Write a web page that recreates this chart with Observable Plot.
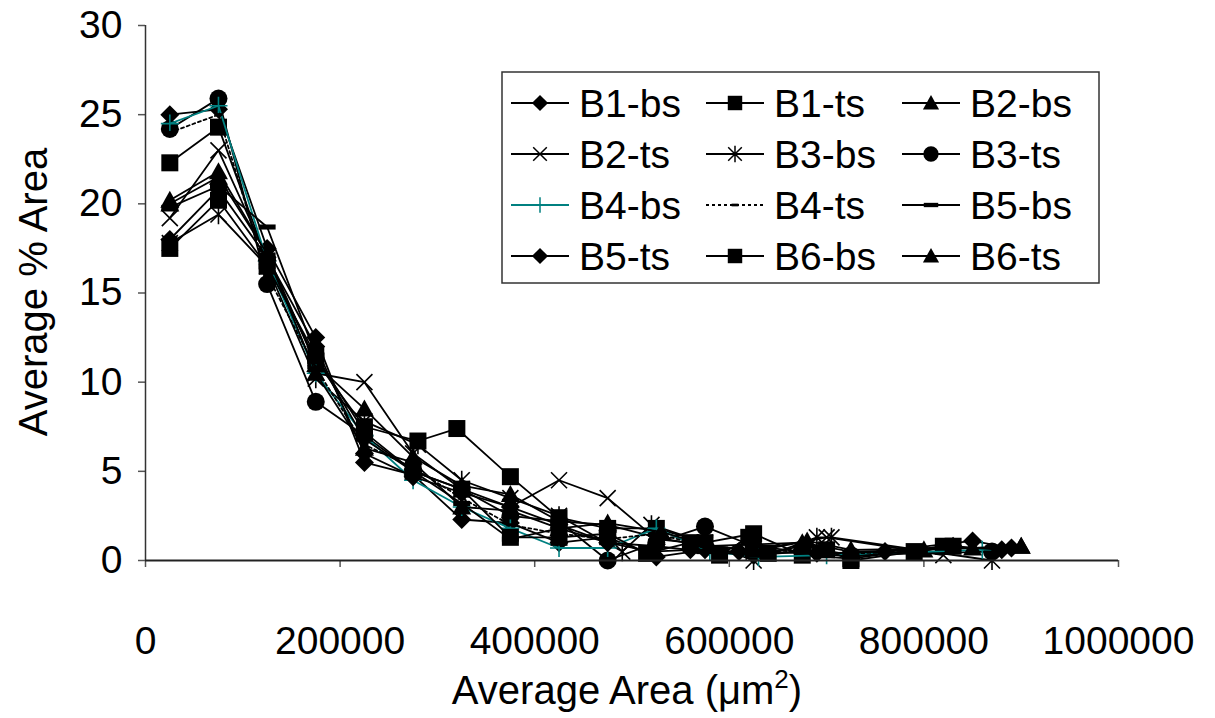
<!DOCTYPE html>
<html><head><meta charset="utf-8">
<script src="https://cdn.jsdelivr.net/npm/d3@7"></script>
<script src="https://cdn.jsdelivr.net/npm/@observablehq/plot@0.6"></script>
<style>body{margin:0;background:#fff;}</style>
</head><body><div id="chart"></div>
<script>
// ---- data (x = average area in µm², y = average % area) ----
const seriesNames = ["B1-bs","B1-ts","B2-bs","B2-ts","B3-bs","B3-ts","B4-bs","B4-ts","B5-bs","B5-ts","B6-bs","B6-ts"];
const xTicks = [0,200000,400000,600000,800000,1000000];
const yTicks = [0,5,10,15,20,25,30];

const B1_bs = [[25000,25.0],[75000,25.3],[125000,17.5],[175000,12.5],[225000,5.5],[275000,4.8],[325000,2.3],[375000,2.1],[425000,1.0],[475000,1.3],[525000,0.2],[575000,0.6],[625000,0.3],[675000,0.8],[725000,0.3],[850000,1.1],[890000,0.7]];
const B1_ts = [[25000,22.3],[75000,24.3],[125000,16.8],[175000,11.2],[225000,7.5],[280000,6.7],[320000,7.4],[375000,4.7],[425000,2.4],[475000,1.8],[525000,1.8],[575000,1.0],[625000,1.5],[675000,0.3],[725000,0.1],[820000,0.8]];
const B2_bs = [[25000,20.2],[75000,21.8],[125000,17.2],[175000,11.0],[225000,8.5],[275000,5.8],[325000,4.2],[375000,3.7],[425000,2.2],[475000,2.0],[525000,1.3],[575000,0.8],[625000,0.9],[675000,1.0],[725000,0.5],[800000,0.6],[900000,0.8]];
const B2_ts = [[25000,19.2],[75000,23.0],[125000,17.0],[175000,10.5],[225000,10.0],[275000,6.0],[325000,4.0],[375000,3.0],[425000,4.5],[475000,3.5],[525000,1.2],[575000,0.9],[625000,0.5],[700000,1.3],[820000,0.3]];
const B3_bs = [[25000,17.8],[75000,19.4],[125000,16.5],[175000,10.2],[225000,7.8],[280000,6.5],[325000,4.5],[375000,3.5],[425000,2.5],[490000,0.5],[520000,2.0],[575000,1.0],[625000,0.0],[690000,1.3],[705000,1.3],[870000,0.0]];
const B3_ts = [[25000,24.2],[75000,25.9],[125000,15.5],[175000,8.9],[225000,7.0],[275000,5.0],[325000,4.0],[375000,2.5],[425000,2.2],[475000,0.0],[525000,1.0],[575000,1.9],[625000,0.8],[675000,0.5],[725000,0.3],[870000,0.5]];
const B4_bs = [[25000,24.5],[75000,25.5],[125000,16.8],[175000,10.5],[225000,7.0],[275000,4.5],[325000,3.0],[375000,1.8],[425000,0.7],[475000,0.7],[525000,1.8],[580000,0.5],[630000,0.2],[700000,0.3],[860000,0.6]];
const B4_ts = [[25000,24.0],[75000,25.0],[125000,16.0],[175000,10.8],[225000,6.5],[275000,5.2],[325000,3.5],[375000,2.0],[425000,1.5],[475000,1.2],[525000,1.5],[575000,0.8],[625000,0.6],[675000,0.5],[725000,0.4],[800000,0.5]];
const B5_bs = [[25000,19.8],[75000,21.0],[125000,18.7],[175000,11.5],[225000,6.8],[275000,5.0],[325000,3.2],[375000,1.2],[425000,1.8],[475000,1.0],[525000,0.8],[575000,0.5],[625000,0.3],[675000,0.5],[725000,0.2],[820000,0.7]];
const B5_ts = [[25000,18.0],[75000,20.8],[125000,17.0],[175000,12.0],[225000,6.0],[275000,4.7],[325000,3.8],[375000,3.0],[425000,2.0],[475000,1.0],[520000,0.5],[560000,0.6],[610000,0.5],[690000,0.4],[760000,0.5],[830000,0.8],[880000,0.6]];
const B6_bs = [[25000,17.5],[75000,20.2],[125000,16.5],[175000,11.5],[225000,7.2],[275000,5.0],[325000,4.0],[375000,1.3],[425000,1.3],[475000,1.5],[515000,0.4],[560000,1.0],[590000,0.3],[620000,1.3],[640000,0.4],[700000,0.6],[725000,0.0],[790000,0.5],[830000,0.8]];
const B6_ts = [[25000,20.0],[75000,21.5],[125000,17.2],[175000,10.5],[225000,6.3],[275000,5.5],[325000,3.0],[375000,2.8],[425000,1.8],[475000,2.1],[530000,1.6],[580000,0.8],[625000,0.6],[680000,1.1],[725000,0.6],[850000,0.7],[900000,0.8]];
const seriesData = [B1_bs,B1_ts,B2_bs,B2_ts,B3_bs,B3_ts,B4_bs,B4_ts,B5_bs,B5_ts,B6_bs,B6_ts];

// ---- marker symbols (size -> half-width r = sqrt(size/PI)) ----
const R = s => Math.sqrt(s / Math.PI);
const symDiamond = {draw(c,s){const r=R(s); c.moveTo(0,-r); c.lineTo(r,0); c.lineTo(0,r); c.lineTo(-r,0); c.closePath();}};
const symSquare = {draw(c,s){const r=R(s); c.rect(-r,-r,2*r,2*r);}};
const symTriangle = {draw(c,s){const r=R(s); c.moveTo(0,-r); c.lineTo(r,r*0.8); c.lineTo(-r,r*0.8); c.closePath();}};
const symTimes = {draw(c,s){const r=R(s); c.moveTo(-r,-r); c.lineTo(r,r); c.moveTo(-r,r); c.lineTo(r,-r);}};
const symAsterisk = {draw(c,s){const r=R(s); c.moveTo(0,-r*1.2); c.lineTo(0,r*1.2); c.moveTo(-r,-r); c.lineTo(r,r); c.moveTo(-r,r); c.lineTo(r,-r);}};
const symCircle = {draw(c,s){const r=R(s); c.moveTo(r,0); c.arc(0,0,r,0,2*Math.PI);}};
const symPlus = {draw(c,s){const r=R(s); c.moveTo(-r,0); c.lineTo(r,0); c.moveTo(0,-r); c.lineTo(0,r);}};
const symDash = {draw(c,s){const r=R(s); c.rect(-r,-r*0.4,2*r,r*0.8);}};
const symBar = {draw(c,s){const r=R(s); c.rect(-r,-r*0.3,2*r,r*0.6);}};

const styles = [
  {sym:symDiamond, r:9.5, fill:true},
  {sym:symSquare, r:8.5, fill:true},
  {sym:symTriangle, r:9.5, fill:true},
  {sym:symTimes, r:8, fill:false},
  {sym:symAsterisk, r:8, fill:false},
  {sym:symCircle, r:9, fill:true},
  {sym:symPlus, r:9, fill:false, color:"#008080"},
  {sym:symDash, r:4, fill:true, dash:"3,3"},
  {sym:symBar, r:8.5, fill:true},
  {sym:symDiamond, r:9.5, fill:true},
  {sym:symSquare, r:8.5, fill:true},
  {sym:symTriangle, r:9.5, fill:true}
];

const marks = [];
seriesData.forEach((data, i) => {
  const st = styles[i];
  const color = st.color || "#000";
  marks.push(Plot.line(data, {x: d => d[0], y: d => d[1], stroke: color, strokeWidth: 1.8, strokeDasharray: st.dash}));
  marks.push(Plot.dot(data, {x: d => d[0], y: d => d[1], symbol: st.sym, r: st.r,
    fill: st.fill ? color : "none", stroke: st.fill ? "none" : color, strokeWidth: st.fill ? 0 : 1.6}));
});

const chart = Plot.plot({
  width: 1215, height: 718,
  marginLeft: 145, marginRight: 97, marginTop: 25, marginBottom: 158,
  style: {fontFamily: "'Liberation Sans', Arial, sans-serif", fontSize: "39px", background: "#fff", color: "#000"},
  x: {domain: [0, 1000000]},
  y: {domain: [0, 30]},
  marks: [
    Plot.axisY({ticks: yTicks, tickSize: 7, tickPadding: 16, stroke: "#555", strokeWidth: 1.5, label: null, fontSize: 39}),
    Plot.axisX({ticks: xTicks, tickFormat: d3.format("d"), tickSize: 7, tickPadding: 59, stroke: "#555", strokeWidth: 1.5, label: null, fontSize: 39}),
    ...marks,
    Plot.ruleX([0], {stroke: "#333", strokeWidth: 1.5}),
    Plot.ruleY([0], {stroke: "#222", strokeWidth: 1.8})
  ]
});
document.getElementById("chart").appendChild(chart);

// ---- titles & legend ----
const svg = d3.select(chart);
const font = "'Liberation Sans', Arial, sans-serif";
svg.append("text").attr("transform", "translate(33,292) rotate(-90)")
  .attr("text-anchor", "middle").attr("dominant-baseline", "central")
  .style("font-family", font).style("font-size", "40px").attr("fill", "#000")
  .text("Average % Area");
const xt = svg.append("text").attr("x", 627).attr("y", 704).attr("text-anchor", "middle")
  .style("font-family", font).style("font-size", "40px").attr("fill", "#000");
xt.append("tspan").text("Average Area (μm");
xt.append("tspan").attr("dy", -16).style("font-size", "26px").text("2");
xt.append("tspan").attr("dy", 16).text(")");

const lg = svg.append("g");
lg.append("rect").attr("x", 502).attr("y", 72).attr("width", 597).attr("height", 211)
  .attr("fill", "#fff").attr("stroke", "#333").attr("stroke-width", 1.5);
const colX = [511, 706, 902];
const rowY = [103, 154, 205, 256];
seriesNames.forEach((name, i) => {
  const st = styles[i];
  const color = st.color || "#000";
  const x0 = colX[i % 3], y0 = rowY[Math.floor(i / 3)];
  lg.append("line").attr("x1", x0).attr("x2", x0 + 58).attr("y1", y0).attr("y2", y0)
    .attr("stroke", color).attr("stroke-width", 1.8).attr("stroke-dasharray", st.dash || null);
  const rr = st.r * 0.85;
  lg.append("path").attr("transform", `translate(${x0 + 29},${y0})`)
    .attr("d", d3.symbol(st.sym, Math.PI * rr * rr)())
    .attr("fill", st.fill ? color : "none").attr("stroke", st.fill ? "none" : color).attr("stroke-width", 1.5);
  lg.append("text").attr("x", x0 + 68).attr("y", y0).attr("text-anchor", "start").attr("dominant-baseline", "central")
    .style("font-family", font).style("font-size", "39px").attr("fill", "#000").text(name);
});
</script>
</body></html>
